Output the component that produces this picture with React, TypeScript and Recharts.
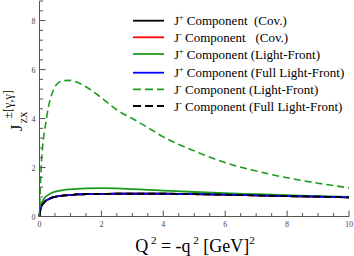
import { LineChart, Line, XAxis, YAxis } from 'recharts'

const q = [0, 0.02, 0.05, 0.1, 0.15, 0.2, 0.3, 0.4, 0.5, 0.6, 0.8, 1.0, 1.2, 1.5, 2, 2.5, 3, 3.5, 4, 5, 6, 7, 8, 9, 10]
const jPlusCov = [0, 0.22, 0.38, 0.5, 0.58, 0.64, 0.71, 0.77, 0.8, 0.83, 0.86, 0.88, 0.9, 0.91, 0.92, 0.93, 0.93, 0.93, 0.93, 0.91, 0.89, 0.86, 0.83, 0.81, 0.78]
const jMinusCov = [0, 0.22, 0.38, 0.5, 0.58, 0.64, 0.71, 0.77, 0.8, 0.83, 0.86, 0.88, 0.9, 0.91, 0.92, 0.93, 0.93, 0.93, 0.93, 0.91, 0.89, 0.86, 0.83, 0.81, 0.78]
const jPlusLF = [0, 0.3, 0.48, 0.63, 0.73, 0.81, 0.9, 0.97, 1.01, 1.04, 1.09, 1.11, 1.13, 1.15, 1.16, 1.15, 1.12, 1.09, 1.06, 1.0, 0.95, 0.91, 0.87, 0.83, 0.8]
const jPlusFullLF = [0, 0.22, 0.38, 0.5, 0.58, 0.64, 0.71, 0.77, 0.8, 0.83, 0.86, 0.88, 0.9, 0.91, 0.92, 0.93, 0.93, 0.93, 0.93, 0.91, 0.89, 0.86, 0.83, 0.81, 0.78]
const jMinusLF = [0, 0.9, 1.9, 2.85, 3.4, 3.8, 4.55, 5.0, 5.3, 5.45, 5.55, 5.56, 5.49, 5.3, 4.85, 4.35, 4.0, 3.63, 3.25, 2.68, 2.2, 1.86, 1.58, 1.36, 1.17]
const jMinusFullLF = [0, 0.22, 0.38, 0.5, 0.58, 0.64, 0.71, 0.77, 0.8, 0.83, 0.86, 0.88, 0.9, 0.91, 0.92, 0.93, 0.93, 0.93, 0.93, 0.91, 0.89, 0.86, 0.83, 0.81, 0.78]

const xTicks = [0, 0.5, 1, 1.5, 2, 2.5, 3, 3.5, 4, 4.5, 5, 5.5, 6, 6.5, 7, 7.5, 8, 8.5, 9, 9.5, 10]
const xMajor = [0, 2, 4, 6, 8, 10]
const yTicks = [0, 0.4, 0.8, 1.2, 1.6, 2, 2.4, 2.8, 3.2, 3.6, 4, 4.4, 4.8, 5.2, 5.6, 6, 6.4, 6.8, 7.2, 7.6, 8, 8.4, 8.8]
const yMajor = [0, 2, 4, 6, 8]

const GREEN = '#1c9c1c'
const FONT = 'Liberation Serif, DejaVu Serif, serif'

const rows = q.map((x, i) => ({
  q: x,
  pc: jPlusCov[i],
  mc: jMinusCov[i],
  plf: jPlusLF[i],
  pflf: jPlusFullLF[i],
  mlf: jMinusLF[i],
  mflf: jMinusFullLF[i],
}))

const isMajor = (list: number[], v: number) => list.some((m) => Math.abs(m - v) < 1e-6)

const BottomTick = ({ x, y, payload }: any) => {
  const major = isMajor(xMajor, payload.value)
  return (
    <g>
      <line x1={x} y1={y} x2={x} y2={y - (major ? 6 : 3.5)} stroke="#555" />
      {major && (
        <text x={x} y={y + 10} textAnchor="middle" fontSize={8} fill="#444" fontFamily={FONT}>
          {payload.value}
        </text>
      )}
    </g>
  )
}

const TopTick = ({ x, y, payload }: any) => {
  const major = isMajor(xMajor, payload.value)
  return <line x1={x} y1={y} x2={x} y2={y + (major ? 6 : 3.5)} stroke="#555" />
}

const LeftTick = ({ x, y, payload }: any) => {
  const major = isMajor(yMajor, payload.value)
  return (
    <g>
      <line x1={x} y1={y} x2={x + (major ? 6 : 3.5)} y2={y} stroke="#555" />
      {major && (
        <text x={x - 4} y={y + 3} textAnchor="end" fontSize={8} fill="#444" fontFamily={FONT}>
          {payload.value}
        </text>
      )}
    </g>
  )
}

const RightTick = ({ x, y, payload }: any) => {
  const major = isMajor(yMajor, payload.value)
  return <line x1={x} y1={y} x2={x - (major ? 6 : 3.5)} y2={y} stroke="#555" />
}

const legend = [
  { sup: '+', label: ' Component  (Cov.)', color: '#000', dash: undefined, y: 20.7 },
  { sup: '-', label: ' Component   (Cov.)', color: '#ff0000', dash: undefined, y: 37.3 },
  { sup: '+', label: ' Component (Light-Front)', color: GREEN, dash: undefined, y: 54 },
  { sup: '+', label: ' Component (Full Light-Front)', color: '#0000ff', dash: undefined, y: 72.7 },
  { sup: '-', label: ' Component (Light-Front)', color: GREEN, dash: '8 4', y: 89.3 },
  { sup: '-', label: ' Component (Full Light-Front)', color: '#000', dash: '8 4', y: 106 },
]

export default function App() {
  return (
    <div style={{ position: 'relative', width: 354, height: 256 }}>
      <style>{'body{margin:0}'}</style>
      <LineChart width={354} height={256} data={rows} margin={{ top: 1, right: 5, bottom: 0, left: 0 }}>
        <XAxis
          dataKey="q"
          type="number"
          domain={[0, 10]}
          ticks={xTicks}
          height={39.5}
          tickSize={0}
          tickMargin={0}
          tickLine={false}
          tick={<BottomTick />}
          axisLine={{ stroke: '#555' }}
          interval={0}
        />
        <XAxis
          xAxisId="top"
          orientation="top"
          type="number"
          domain={[0, 10]}
          ticks={xTicks}
          height={0}
          tickSize={0}
          tickMargin={0}
          tickLine={false}
          tick={<TopTick />}
          axisLine={{ stroke: '#555' }}
          interval={0}
        />
        <YAxis
          type="number"
          domain={[0, 8.8]}
          ticks={yTicks}
          width={39.5}
          tickSize={0}
          tickMargin={0}
          tickLine={false}
          tick={<LeftTick />}
          axisLine={{ stroke: '#555' }}
          interval={0}
        />
        <YAxis
          yAxisId="right"
          orientation="right"
          type="number"
          domain={[0, 8.8]}
          ticks={yTicks}
          width={0}
          tickSize={0}
          tickMargin={0}
          tickLine={false}
          tick={<RightTick />}
          axisLine={{ stroke: '#555' }}
          interval={0}
        />
        <Line dataKey="pc" type="monotone" stroke="#000" strokeWidth={1.8} dot={false} isAnimationActive={false} />
        <Line dataKey="mc" type="monotone" stroke="#ff0000" strokeWidth={1.8} dot={false} isAnimationActive={false} />
        <Line dataKey="plf" type="monotone" stroke={GREEN} strokeWidth={1.8} dot={false} isAnimationActive={false} />
        <Line dataKey="pflf" type="monotone" stroke="#0000ff" strokeWidth={1.8} dot={false} isAnimationActive={false} />
        <Line dataKey="mlf" type="monotone" stroke={GREEN} strokeWidth={1.6} strokeDasharray="7 4" dot={false} isAnimationActive={false} />
        <Line dataKey="mflf" type="monotone" stroke="#000" strokeWidth={1.8} strokeDasharray="7 4" dot={false} isAnimationActive={false} />
      </LineChart>
      <svg width={354} height={256} style={{ position: 'absolute', left: 0, top: 0, pointerEvents: 'none' }}>
        {legend.map((e) => (
          <g key={e.label + e.y}>
            <line x1={133} x2={164} y1={e.y} y2={e.y} stroke={e.color} strokeWidth={1.8} strokeDasharray={e.dash} />
            <text x={174} y={e.y + 4.5} fontSize={13} fontFamily={FONT} fill="#000" style={{ whiteSpace: 'pre' }}>
              J
              <tspan fontSize={8} dy={-5}>{e.sup}</tspan>
              <tspan dy={5}>{e.label}</tspan>
            </text>
          </g>
        ))}
        {/* y axis title: J with stacked superscript and subscript */}
        <text transform="translate(22,131) rotate(-90)" fontFamily={FONT} fontSize={16} fill="#000">
          J
        </text>
        <text transform="translate(11.5,118.5) rotate(-90)" fontFamily={FONT} fontSize={12} fill="#000">
          ±[γ,γ]
        </text>
        <text transform="translate(27,123.5) rotate(-90)" fontFamily={FONT} fontSize={9} fill="#000">
          ZX
        </text>
        <text x={195} y={252} textAnchor="middle" fontFamily={FONT} fontSize={18} fill="#000" style={{ whiteSpace: 'pre' }}>
          Q<tspan fontSize={11} dy={-8}> 2</tspan>
          <tspan dy={8}> = -q</tspan>
          <tspan fontSize={11} dy={-8}> 2</tspan>
          <tspan dy={8}> [GeV]</tspan>
          <tspan fontSize={11} dy={-8}>2</tspan>
        </text>
      </svg>
    </div>
  )
}
